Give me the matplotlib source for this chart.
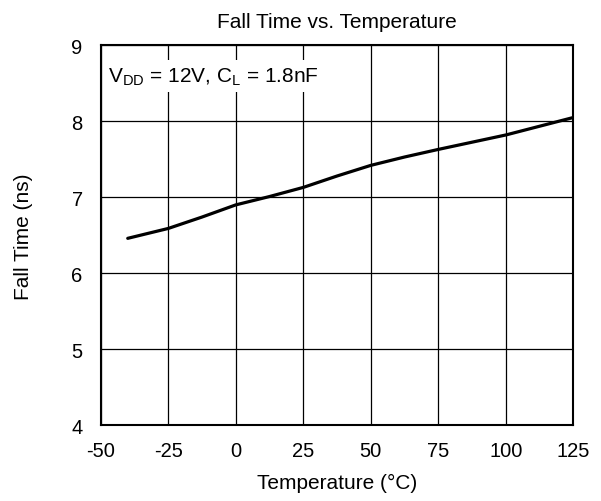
import numpy as np
import matplotlib
matplotlib.use("Agg")
import matplotlib.pyplot as plt

plt.rcParams['font.family'] = ['Liberation Sans', 'DejaVu Sans']
plt.rcParams['mathtext.fontset'] = 'custom'
plt.rcParams['mathtext.rm'] = 'Liberation Sans'
plt.rcParams['axes.unicode_minus'] = False

# data
temp = [-40, -25, -12.5, 0, 12.5, 25, 37.5, 50, 62.5, 75, 100, 125]
fall_time = [6.46, 6.59, 6.74, 6.9, 7.01, 7.13, 7.28, 7.42, 7.53, 7.63, 7.82, 8.05]
xticks = [-50, -25, 0, 25, 50, 75, 100, 125]
yticks = [4, 5, 6, 7, 8, 9]

fig = plt.figure(figsize=(6.01, 5.02), dpi=100)
ax = fig.add_axes([0.1676, 0.1508, 0.7864, 0.757])

ax.plot(temp, fall_time, color='black', lw=2.3, solid_capstyle='round')

ax.set_xlim(-50, 125)
ax.set_ylim(4, 9)
ax.set_xticks(xticks)
ax.set_yticks(yticks)
ax.grid(True, color='black', lw=0.9)
ax.set_axisbelow(True)
ax.tick_params(length=0, labelsize=14.5)
ax.tick_params(axis='x', pad=11)
ax.tick_params(axis='y', pad=13)
for s in ax.spines.values():
    s.set_linewidth(1.5)

ax.set_xlabel('Temperature (°C)', fontsize=15, labelpad=9.5)
ax.set_ylabel('Fall Time (ns)', fontsize=15, labelpad=27.5)
ax.set_title('Fall Time vs. Temperature', fontsize=15, pad=13)

ax.text(-47.2, 8.526, r'$\mathregular{V_{DD}}$ = 12V, $\mathregular{C_L}$ = 1.8nF',
        fontsize=15, va='baseline', ha='left',
        bbox=dict(facecolor='white', edgecolor='none', pad=4))

fig.savefig('out.png', dpi=100)
